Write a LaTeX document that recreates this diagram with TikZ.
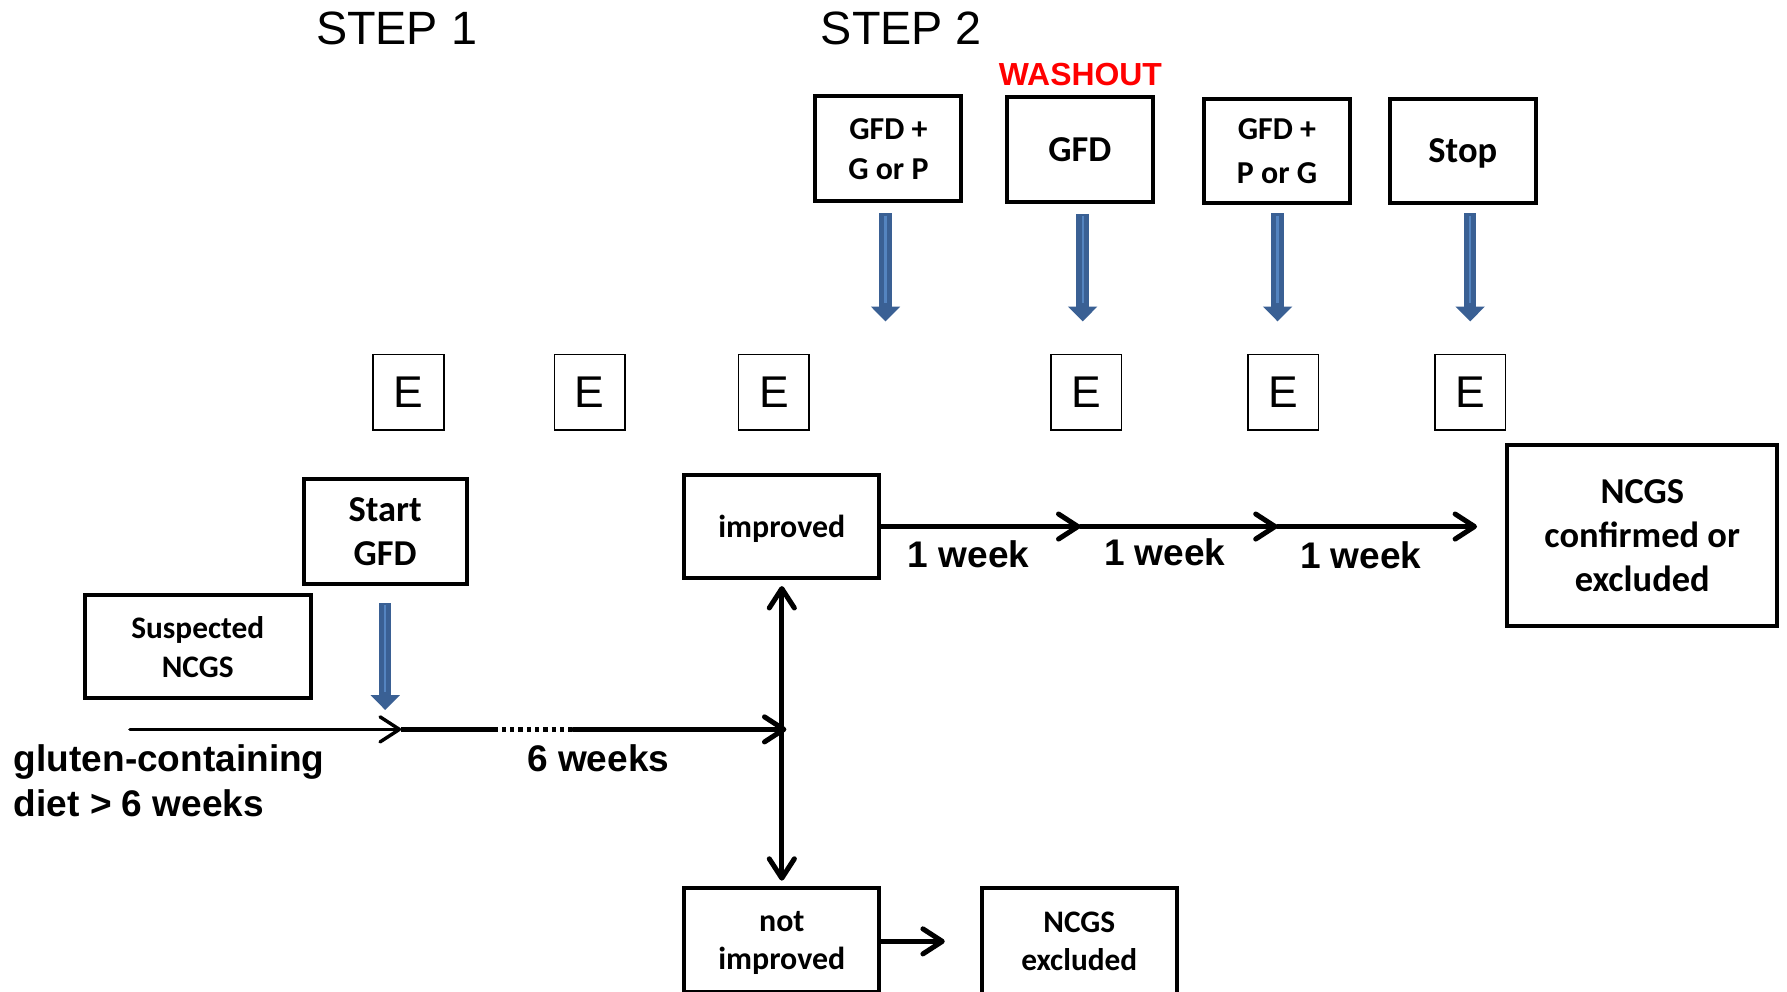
\documentclass[tikz,border=0pt]{standalone}
\usepackage{fontspec}
\setmainfont{Liberation Sans}
\newfontfamily\calfont{Carlito}
\usetikzlibrary{arrows.meta}
\definecolor{bluearr}{RGB}{58,96,148}
\definecolor{bluelight}{RGB}{84,132,192}
\definecolor{washred}{RGB}{255,0,0}
\begin{document}
\begin{tikzpicture}[x=1bp,y=-1bp,
  box/.style={draw=black, line width=3.5bp, fill=white, inner sep=0pt, align=center,
    font=\calfont\bfseries\fontsize{28bp}{35bp}\selectfont},
  bigbox/.style={box, font=\calfont\bfseries\fontsize{32bp}{39bp}\selectfont},
  ebox/.style={draw=black, line width=1.5bp, minimum width=62bp, minimum height=66bp,
    inner sep=0pt, font=\fontsize{39bp}{39bp}\selectfont},
  lbl/.style={inner sep=0pt, font=\bfseries\fontsize{32.5bp}{40bp}\selectfont},
  steplbl/.style={inner sep=0pt, font=\fontsize{41bp}{41bp}\selectfont},
  barb/.tip={Straight Barb[length=17bp,width=22bp,round]},
  flow/.style={line width=4.4bp, line cap=round, -barb},
  bluearrow/.style={bluearr, line width=11bp, -{Triangle[length=13bp,width=25bp]}},
  bluehl/.style={bluelight, line width=2bp}
]
\clip (0,0) rectangle (1568,870);
\fill[white] (0,0) rectangle (1568,870);

% step headings
\node[steplbl] (s1) at (348,25) {STEP 1};
\node[steplbl] (s2) at (791,25) {STEP 2};
\node[inner sep=0pt, text=washred, font=\bfseries\fontsize{28bp}{28bp}\selectfont] (wash) at (948,65) {WASHOUT};

% top boxes
\node[box, minimum width=128bp, minimum height=92bp] (b1) at (779.5,130.5) {GFD +\\G or P};
\node[bigbox, minimum width=128bp, minimum height=92bp, yshift=0bp] (b2) at (947.5,131) {GFD};
\node[box, font=\calfont\bfseries\fontsize{28bp}{39bp}\selectfont,
      minimum width=128bp, minimum height=92bp] (b3) at (1120.5,132.5) {GFD +\\P or G};
\node[bigbox, minimum width=128bp, minimum height=92bp, text depth=0pt] (b4) at (1283.5,132.5) {Stop};

% blue arrows
\coordinate (a1) at (777,282);
\coordinate (a2) at (950,282);
\coordinate (a3) at (1121,282);
\coordinate (a4) at (1290,282);
\foreach \b/\a/\s in {b1/a1/9, b2/a2/9, b3/a3/7, b4/a4/7}{
  \draw[bluearrow, shorten <=\s bp] (\b.south -| \a) -- (\a);
  \draw[bluehl, shorten <=\s bp+2bp, shorten >=16bp] (\b.south -| \a) -- (\a);
}

% E boxes
\node[ebox] (e1) at (358.5,344) {E};
\node[ebox] (e2) at (517.5,344) {E};
\node[ebox] (e3) at (679,344) {E};
\node[ebox] (e4) at (953,344) {E};
\node[ebox] (e5) at (1126,344) {E};
\node[ebox] (e6) at (1290,344) {E};

% lower boxes
\node[bigbox, minimum width=143bp, minimum height=92bp] (start) at (338,466.5) {Start\\GFD};
\node[box, font=\calfont\bfseries\fontsize{27.5bp}{34bp}\selectfont,
      minimum width=198bp, minimum height=90bp] (susp) at (173.5,567.5) {Suspected\\NCGS};
\node[box, minimum width=171bp, minimum height=91bp, text depth=0pt] (imp) at (686,462) {improved};
\node[box, font=\calfont\bfseries\fontsize{28bp}{33bp}\selectfont, text depth=0pt,
      minimum width=171bp, minimum height=91bp] (notimp) at (686,825) {not\\improved};
\node[box, font=\calfont\bfseries\fontsize{27.5bp}{34bp}\selectfont,
      minimum width=171bp, minimum height=93bp] (excl) at (947,826) {NCGS\\excluded};
\node[bigbox, minimum width=237bp, minimum height=159bp] (conf) at (1441,470) {NCGS\\confirmed or\\excluded};

% start GFD blue arrow
\coordinate (sa) at (338,623);
\draw[bluearrow, shorten <=15bp] (start.south -| sa) -- (sa);
\draw[bluehl, shorten <=17bp, shorten >=16bp] (start.south -| sa) -- (sa);

% timeline
\coordinate (t0) at (114,640);
\coordinate (t1) at (352,640);
\coordinate (d1) at (433,640);
\coordinate (d2) at (503,640);
\coordinate (junc) at (690,640);
\draw[line width=3bp, line cap=round, -barb] (t0) -- (t1);
\draw[line width=4.4bp] (t1) -- (d1);
\draw[line width=4.4bp, dash pattern=on 3.6bp off 3.7bp] (d1) -- (d2);
\draw[flow] (d2) -- (junc);

\draw[line width=4.4bp, barb-barb, shorten <=5bp, shorten >=5bp] (imp.south) -- (notimp.north);

% weeks
\coordinate (w1) at (948,462);
\coordinate (w2) at (1121,462);
\coordinate (w3) at (1296,462);
\draw[flow] (imp.east) -- (w1);
\draw[flow] (w1) -- (w2);
\draw[flow] (w2) -- (w3);
\node[lbl] (l1) at (850,486) {1 week};
\node[lbl] (l2) at (1022,485) {1 week};
\node[lbl] (l3) at (1194,487) {1 week};

\coordinate (ex) at (829,826);
\draw[flow] (notimp.east |- ex) -- (ex);

% timeline labels
\node[lbl] (six) at (525,665) {6 weeks};
\node[lbl, anchor=north west, align=left] (gl) at (12,653) {gluten-containing\\diet > 6 weeks};
\end{tikzpicture}
\end{document}
